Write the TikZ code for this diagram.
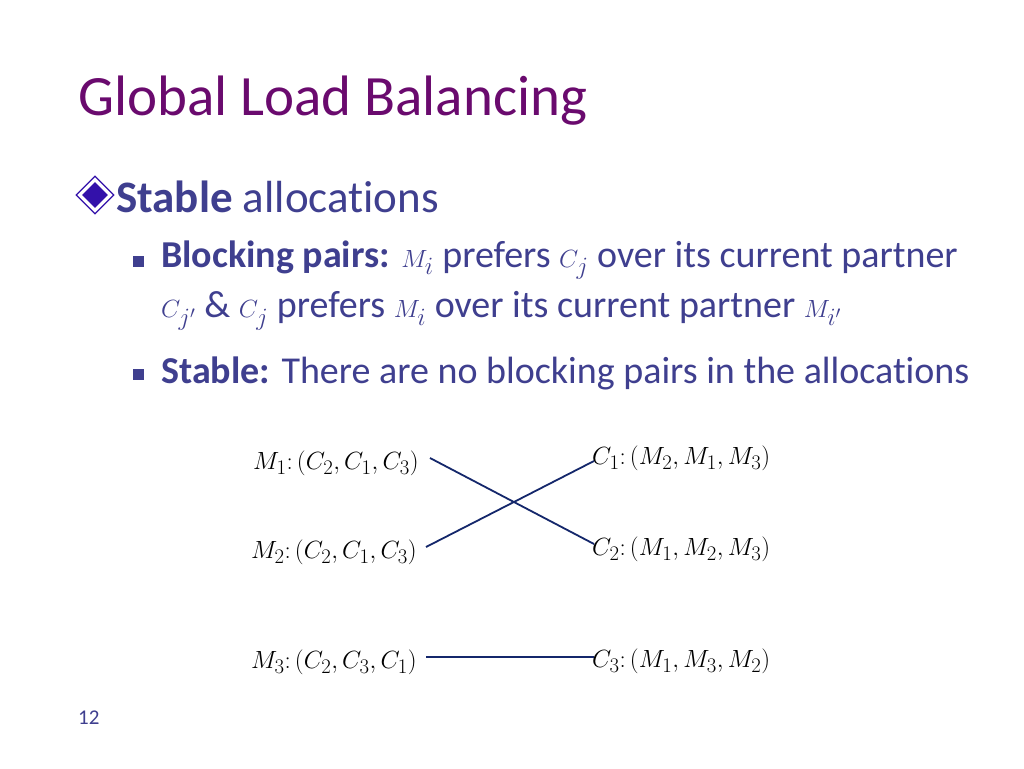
\documentclass[tikz,border=0pt]{standalone}
\usepackage{fontspec}
\setmainfont{Carlito}[Ligatures=NoCommon]
\usetikzlibrary{shapes.geometric,calc}
\begin{document}
\begin{tikzpicture}[x=1pt,y=-1pt,
  txt/.style={anchor=west,inner sep=0pt,text=bodyc},
  lab/.style={anchor=west,inner sep=1pt,font=\fontsize{31}{34}\selectfont},
  conn/.style={draw=linec,line width=1.8pt}]
\definecolor{titlec}{HTML}{6A0A6E}
\definecolor{bodyc}{HTML}{3F3F8F}
\definecolor{linec}{HTML}{14276B}
\definecolor{dia}{HTML}{3311AA}
\useasboundingbox[fill=white] (0,0) rectangle (1024,768);
\node[anchor=west,inner sep=0pt,text=titlec,font=\fontsize{57}{60}\selectfont] (title) at (78,101) {Global Load Balancing};
% diamond bullet
\node[diamond,draw=dia,fill=white,minimum size=38pt,inner sep=0pt,line width=1.2pt] (d1) at (95,195) {};
\node[diamond,fill=dia,minimum size=26pt,inner sep=0pt] (d2) at (95,195) {};
\node[txt,font=\fontsize{45}{50}\selectfont] (l1) at (116,197) {\textbf{Stable} allocations};
\node[fill=bodyc,minimum size=11pt,inner sep=0pt] (b1) at (138,261) {};
\node[txt,font=\fontsize{38}{42}\selectfont] (l2) at (161,260) {\textbf{Blocking pairs:} $M_i$ prefers $C_j$ over its current partner};
\node[txt,font=\fontsize{38}{42}\selectfont] (l3) at (161,311) {$C_{j'}$ \& $C_j$ prefers $M_i$ over its current partner $M_{i'}$};
\node[fill=bodyc,minimum size=11pt,inner sep=0pt] (b2) at (138,374) {};
\node[txt,font=\fontsize{38}{42}\selectfont] (l4) at (161,373) {\textbf{Stable:} There are no blocking pairs in the allocations};
% preferences
\node[lab,anchor=east] (m1) at (420,463) {$M_1\colon(C_2,C_1,C_3)$};
\node[lab,anchor=east] (m2) at (418,552) {$M_2\colon(C_2,C_1,C_3)$};
\node[lab,anchor=east] (m3) at (418,662) {$M_3\colon(C_2,C_3,C_1)$};
\node[lab] (c1) at (591,458) {$C_1\colon(M_2,M_1,M_3)$};
\node[lab] (c2) at (591,549) {$C_2\colon(M_1,M_2,M_3)$};
\node[lab] (c3) at (591,661) {$C_3\colon(M_1,M_3,M_2)$};
\draw[conn] ($(m1.east)+(10,-5)$) -- ($(c2.west)+(3,-5)$);
\draw[conn] ($(m2.east)+(8,-5)$) -- ($(c1.west)+(3,3)$);
\draw[conn] ($(m3.east)+(8,-5)$) -- ($(c3.west)+(3,-4)$);
\node[anchor=west,inner sep=0pt,text=bodyc,font=\fontsize{21}{24}\selectfont] (pg) at (78,718) {12};
\end{tikzpicture}
\end{document}
